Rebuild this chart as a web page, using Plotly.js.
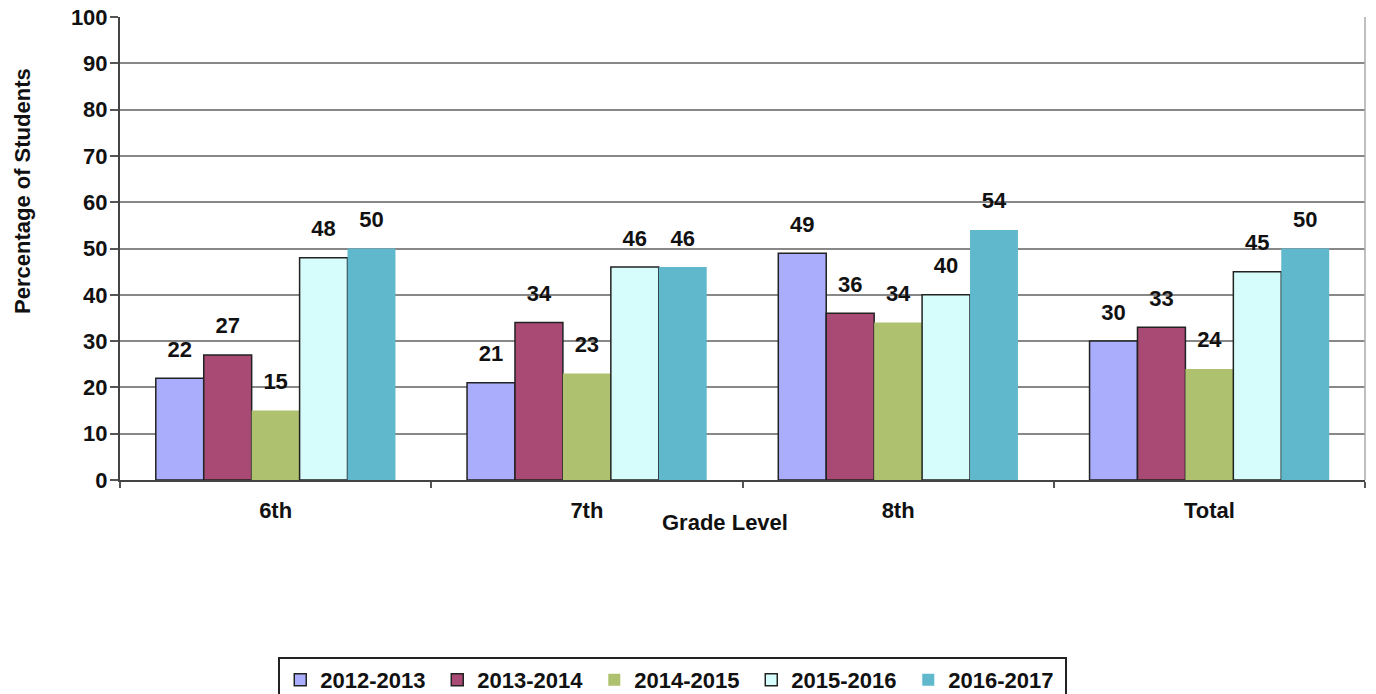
<!DOCTYPE html>
<html>
<head>
<meta charset="utf-8">
<script src="https://cdn.plot.ly/plotly-3.0.1.min.js"></script>
<style>
html,body{margin:0;padding:0;background:#fff;}
#chart{width:1376px;height:694px;}
</style>
</head>
<body>
<div id="chart"></div>
<script>
const categories = ["6th", "7th", "8th", "Total"];
const seriesNames = ["2012-2013", "2013-2014", "2014-2015", "2015-2016", "2016-2017"];
const v2012 = [22, 21, 49, 30];
const v2013 = [27, 34, 36, 33];
const v2014 = [15, 23, 34, 24];
const v2015 = [48, 46, 40, 45];
const v2016 = [50, 46, 54, 50];
const yTicks = [0, 10, 20, 30, 40, 50, 60, 70, 80, 90, 100];

const values = [v2012, v2013, v2014, v2015, v2016];
const colors = ["#A9ADFB", "#A84A74", "#ADC16E", "#D6FCFC", "#60B8CD"];
const outlines = [1.5, 1.5, 0, 1.5, 0];
const FONT = "Liberation Sans, Arial, sans-serif";
const FS = 22;

const barTraces = values.map((vals, i) => ({
  type: "bar",
  name: seriesNames[i],
  x: categories,
  y: vals,
  offsetgroup: "g" + i,
  marker: {color: colors[i], line: {color: "#222", width: outlines[i]}},
  hoverinfo: "none"
}));

const labelTraces = values.map((vals, i) => ({
  type: "scatter",
  mode: "markers+text",
  x: categories,
  y: vals,
  offsetgroup: "g" + i,
  text: vals.map(String),
  textposition: "top center",
  cliponaxis: false,
  textfont: {family: FONT, size: FS, color: "#111", weight: "bold"},
  marker: {size: 24, opacity: 0, color: colors[i]},
  showlegend: false,
  hoverinfo: "none"
}));

const layout = {
  width: 1376, height: 694,
  margin: {l: 120, r: 11, t: 17, b: 214, autoexpand: false},
  paper_bgcolor: "#fff", plot_bgcolor: "#fff",
  barmode: "group",
  scattermode: "group",
  bargap: 0.23,
  scattergap: 0.23,
  bargroupgap: 0,
  font: {family: FONT, color: "#111"},
  showlegend: true,
  legend: {
    orientation: "h",
    x: 0.444, xanchor: "center",
    y: -0.382, yanchor: "top",
    bordercolor: "#222", borderwidth: 2,
    font: {family: FONT, size: FS, weight: "bold", color: "#111"},
    entrywidth: 112,
    itemwidth: 30,
    traceorder: "normal"
  },
  xaxis: {
    type: "category",
    tickson: "boundaries",
    ticks: "outside", ticklen: 6, tickcolor: "#555", tickwidth: 2,
    showline: true, linecolor: "#444", linewidth: 2,
    showgrid: false,
    tickfont: {family: FONT, size: FS, weight: "bold", color: "#111"},
    ticklabelstandoff: 10
  },
  yaxis: {
    range: [0, 100],
    tickvals: yTicks,
    ticks: "outside", ticklen: 8, tickcolor: "#555", tickwidth: 2,
    showline: true, linecolor: "#444", linewidth: 2,
    showgrid: true, gridcolor: "#888", gridwidth: 2,
    zeroline: false,
    ticklabelstandoff: -2,
    tickfont: {family: FONT, size: FS, weight: "bold", color: "#111"}
  },
  shapes: [{
    type: "line", xref: "paper", yref: "paper",
    x0: 1, x1: 1, y0: 0, y1: 1,
    line: {color: "#aaa", width: 1.5}
  }],
  annotations: [
    {
      text: "Grade Level", xref: "paper", yref: "paper",
      x: (725 - 120) / 1245, y: (480 - 522) / 463,
      xanchor: "center", yanchor: "middle", showarrow: false,
      font: {family: FONT, size: FS, weight: "bold", color: "#111"}
    },
    {
      text: "Percentage of Students", xref: "paper", yref: "paper",
      x: (22 - 120) / 1245, y: (480 - 191) / 463,
      xanchor: "center", yanchor: "middle", showarrow: false, textangle: -90,
      font: {family: FONT, size: FS, weight: "bold", color: "#111"}
    }
  ]
};

Plotly.newPlot("chart", barTraces.concat(labelTraces), layout, {displayModeBar: false, staticPlot: true});
</script>
</body>
</html>
